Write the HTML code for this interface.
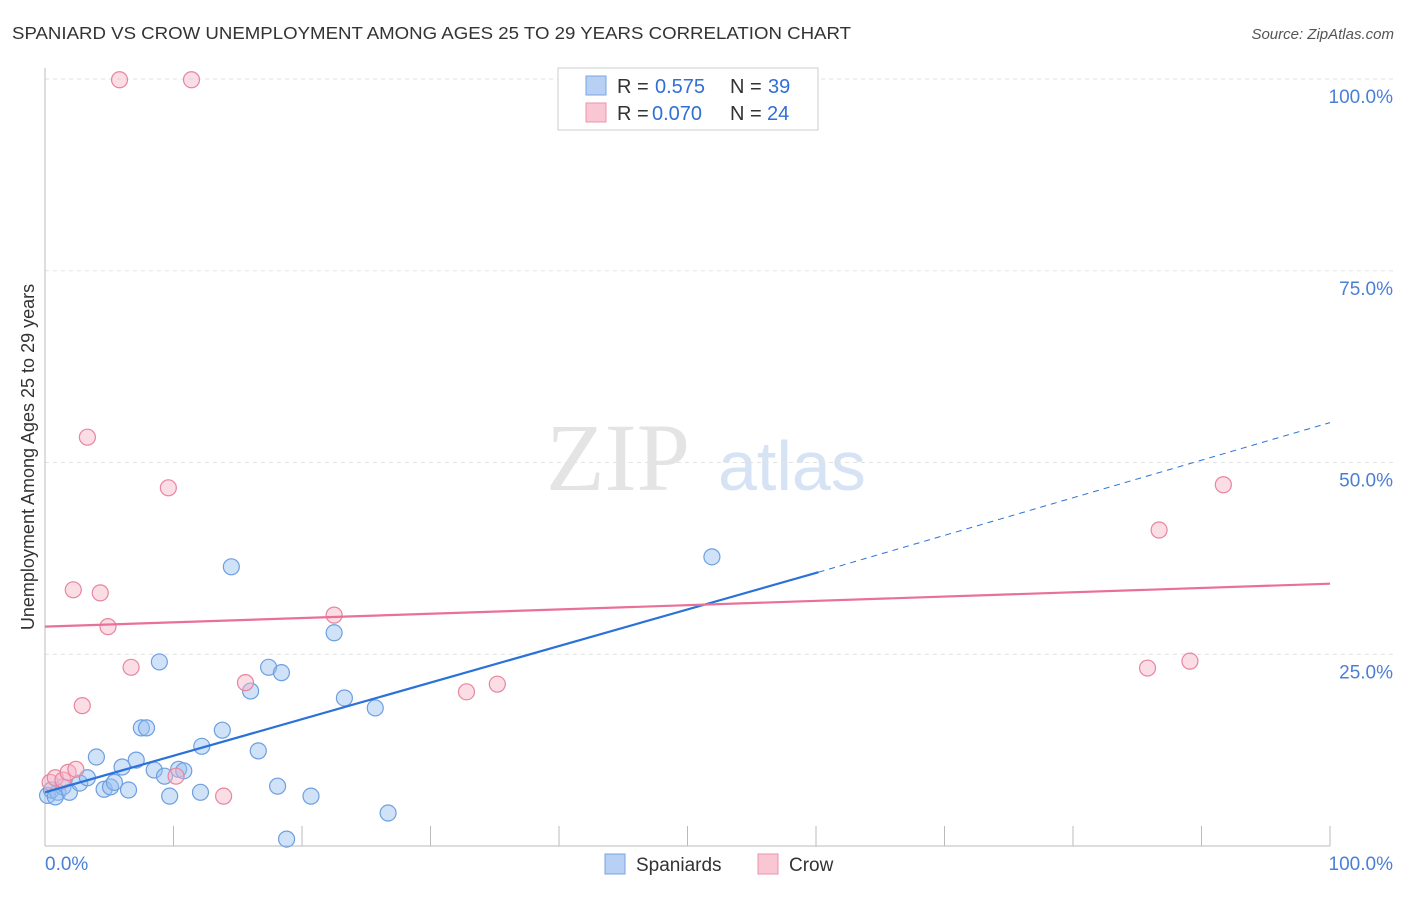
<!DOCTYPE html>
<html><head><meta charset="utf-8"><style>
body{margin:0;background:#fff;font-family:"Liberation Sans",sans-serif}
</style></head><body>
<svg id="c" width="1406" height="892" xmlns="http://www.w3.org/2000/svg">
<text x="12" y="39" font-size="17.5" fill="#333" textLength="839" lengthAdjust="spacingAndGlyphs">SPANIARD VS CROW UNEMPLOYMENT AMONG AGES 25 TO 29 YEARS CORRELATION CHART</text>
<text x="1394" y="39" font-size="15" fill="#555" font-style="italic" text-anchor="end">Source: ZipAtlas.com</text>
<text x="690" y="490" font-size="96" fill="#e4e4e4" font-family="Liberation Serif,serif" text-anchor="end">ZIP</text>
<text x="718" y="490" font-size="70" fill="#d6e3f5">atlas</text>
<text transform="translate(34,457) rotate(-90)" font-size="18" fill="#333" text-anchor="middle">Unemployment Among Ages 25 to 29 years</text>
<g id="grid"></g><g id="marks"></g>
<g font-size="20">
<rect x="558" y="68" width="260" height="62" fill="#fff" stroke="#ccc"/>
<rect x="586" y="76" width="20" height="19" fill="#b7d0f3" stroke="#7aa5e3"/>
<text x="617" y="93" fill="#333">R =</text><text x="655" y="93" fill="#2f6fd6">0.575</text>
<text x="730" y="93" fill="#333">N =</text><text x="768" y="93" fill="#2f6fd6">39</text>
<rect x="586" y="103" width="20" height="19" fill="#f9c6d4" stroke="#ea94ad"/>
<text x="617" y="120" fill="#333">R =</text><text x="652" y="120" fill="#2f6fd6">0.070</text>
<text x="730" y="120" fill="#333">N =</text><text x="767" y="120" fill="#2f6fd6">24</text>
</g>
<g>
<rect x="605" y="854" width="20" height="20" fill="#b7d0f3" stroke="#7aa5e3"/>
<text x="636" y="871" font-size="19" fill="#333">Spaniards</text>
<rect x="758" y="854" width="20" height="20" fill="#f9c6d4" stroke="#ea94ad"/>
<text x="789" y="871" font-size="19" fill="#333">Crow</text>
</g>
</svg>
<script>
const blueX=[0.2,0.5,1.0,1.4,1.9,2.7,3.3,4.0,4.6,5.1,5.4,6.0,6.5,7.1,7.5,7.9,8.5,8.9,9.3,9.7,10.4,10.8,12.1,12.2,13.8,14.5,16.0,16.6,17.4,18.1,18.4,18.8,20.7,22.5,23.3,25.7,26.7,51.9,0.8];
const blueY=[6.6,7.3,7.0,7.7,7.0,8.2,8.9,11.6,7.4,7.7,8.3,10.3,7.3,11.2,15.4,15.4,9.9,24.0,9.1,6.5,10.0,9.8,7.0,13.0,15.1,36.4,20.2,12.4,23.3,7.8,22.6,0.9,6.5,27.8,19.3,18.0,4.3,37.7,6.4];
const pinkX=[0.4,0.8,1.4,1.8,2.4,2.9,3.3,2.2,4.3,4.9,5.8,6.7,9.6,10.2,11.4,13.9,15.6,22.5,32.8,35.2,85.8,86.7,89.1,91.7];
const pinkY=[8.3,8.9,8.6,9.6,10.0,18.3,53.3,33.4,33.0,28.6,99.9,23.3,46.7,9.1,99.9,6.5,21.3,30.1,20.1,21.1,23.2,41.2,24.1,47.1];
const blueTrend=[7.0,35.7,55.2]; const blueTrendX=[0,60.2,100];
const pinkTrend=[28.6,34.2];
const yTicks=[25,50,75,100];
const NS="http://www.w3.org/2000/svg";
const sx=v=>45+v*12.85, sy=v=>846-v*7.67;
function mk(p,t,a){const e=document.createElementNS(NS,t);for(const k in a)e.setAttribute(k,a[k]);p.appendChild(e);return e;}
const g=document.getElementById('grid'),m=document.getElementById('marks');
yTicks.forEach(t=>{
 const l=mk(g,'line',{x1:45,x2:1394,y1:sy(t),y2:sy(t),stroke:'#e2e2e2','stroke-dasharray':'4,4'});
 
 
 const tx=mk(g,'text',{x:1393,y:sy(t)+24,'font-size':19,fill:'#4a7fd6','text-anchor':'end'});tx.textContent=t.toFixed(1)+'%';
 
 
});
mk(g,'line',{x1:45,x2:45,y1:68,y2:846,stroke:'#bbb'});
mk(g,'line',{x1:45,x2:1330,y1:846,y2:846,stroke:'#bbb'});
for(let i=1;i<=10;i++){mk(g,'line',{x1:sx(i*10),x2:sx(i*10),y1:826,y2:846,stroke:'#bbb'});}
[['0.0%',45,'start'],['100.0%',1393,'end']].forEach(([s,x,a])=>{const t=mk(g,'text',{x:x,y:870,'font-size':19,fill:'#4a7fd6','text-anchor':a});t.textContent=s;
 
 });
blueX.forEach((x,i)=>{const c=mk(m,'circle',{cx:sx(x),cy:sy(blueY[i]),r:8,fill:'rgba(150,190,240,0.45)',stroke:'#6d9fe0','stroke-width':1.2});
 
 });
pinkX.forEach((x,i)=>{const c=mk(m,'circle',{cx:sx(x),cy:sy(pinkY[i]),r:8,fill:'rgba(247,180,200,0.45)',stroke:'#e8859f','stroke-width':1.2});
 
 });
const b1=mk(m,'line',{x1:sx(blueTrendX[0]),y1:sy(blueTrend[0]),x2:sx(blueTrendX[1]),y2:sy(blueTrend[1]),stroke:'#2a72d8','stroke-width':2.2});


const b2=mk(m,'line',{x1:sx(blueTrendX[1]),y1:sy(blueTrend[1]),x2:sx(blueTrendX[2]),y2:sy(blueTrend[2]),stroke:'#2a72d8','stroke-width':1,'stroke-dasharray':'6,5'});


const p1=mk(m,'line',{x1:sx(0),y1:sy(pinkTrend[0]),x2:sx(100),y2:sy(pinkTrend[1]),stroke:'#e8709a','stroke-width':2.2});


</script>
</body></html>
